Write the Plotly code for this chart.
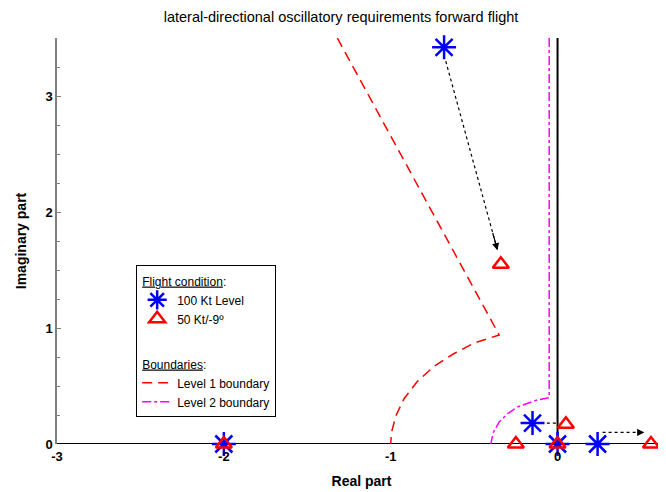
import plotly.graph_objects as go

# roots, 100 Kt level flight
level_re = [-0.68, -2.0, -0.15, 0.0, 0.24]
level_im = [3.42, 0.0, 0.18, 0.0, 0.0]
# roots, 50 Kt / -9 deg descent
desc_re = [-0.34, -2.0, -0.25, 0.0, 0.05, 0.56]
desc_im = [1.55, 0.0, 0.0, 0.0, 0.17, 0.0]

# boundaries
lvl1_re = [-1.32, -0.35, -0.50, -0.62, -0.74, -0.84, -0.92, -0.97, -0.995, -1.0]
lvl1_im = [3.5, 0.94, 0.87, 0.78, 0.67, 0.54, 0.39, 0.24, 0.10, 0.0]
lvl2_re = [-0.05, -0.05, -0.12, -0.24, -0.30, -0.35, -0.385, -0.40]
lvl2_im = [3.5, 0.40, 0.38, 0.32, 0.26, 0.19, 0.10, 0.0]

# arrows from level to descent roots
arr_x0 = [-0.67, -0.10, 0.27]
arr_y0 = [3.30, 0.18, 0.10]
arr_x1 = [-0.36, 0.01, 0.52]
arr_y1 = [1.67, 0.18, 0.10]

fnt = "Liberation Sans, Arial, sans-serif"

fig = go.Figure()

# arrows (dotted stems)
for x0, y0, x1, y1 in zip(arr_x0, arr_y0, arr_x1, arr_y1):
    fig.add_trace(go.Scatter(x=[x0, x1], y=[y0, y1], mode="lines",
                             line=dict(color="black", width=1.2, dash="dot"),
                             showlegend=False, hoverinfo="skip"))
    fig.add_annotation(x=x1, y=y1, ax=x1 - 0.1 * (x1 - x0), ay=y1 - 0.1 * (y1 - y0),
                       xref="x", yref="y", axref="x", ayref="y", text="",
                       showarrow=True, arrowhead=2, arrowsize=1.2, arrowwidth=1.2,
                       arrowcolor="black")

fig.add_trace(go.Scatter(x=level_re, y=level_im, mode="markers", name="100 Kt Level",
                         legendgroup="fc", legendgrouptitle=dict(text="<u>Flight condition</u>:"),
                         cliponaxis=False,
                         marker=dict(symbol="asterisk-open", size=20, color="blue",
                                     line=dict(color="blue", width=2.5))))
fig.add_trace(go.Scatter(x=desc_re, y=desc_im, mode="markers", name="50 Kt/-9º",
                         legendgroup="fc", cliponaxis=False,
                         marker=dict(symbol="triangle-up-open", size=14, color="red",
                                     line=dict(color="red", width=2.5))))
fig.add_trace(go.Scatter(x=lvl1_re, y=lvl1_im, mode="lines", name="Level 1 boundary",
                         legendgroup="b", legendgrouptitle=dict(text="<u>Boundaries</u>:"),
                         line=dict(color="red", width=1.5, dash="10px,6px")))
fig.add_trace(go.Scatter(x=lvl2_re, y=lvl2_im, mode="lines", name="Level 2 boundary",
                         legendgroup="b",
                         line=dict(color="magenta", width=1.5, dash="dashdot")))

# real and imaginary axes
fig.add_shape(type="line", x0=-3, x1=0.65, y0=0, y1=0, line=dict(color="black", width=2), layer="below")
fig.add_shape(type="line", x0=0, x1=0, y0=0, y1=3.5, line=dict(color="black", width=2), layer="below")

# the html page puts an 8px body margin around the figure, margins allow for it
fig.update_layout(
    width=666, height=492,
    margin=dict(l=49, r=8, t=30, b=56),
    plot_bgcolor="white", paper_bgcolor="white",
    font=dict(family=fnt, size=12, color="black"),
    title=dict(text="lateral-directional oscillatory requirements forward flight",
               x=0.5, xanchor="center", y=0.982, yanchor="middle",
               font=dict(family=fnt, size=14.5)),
    xaxis=dict(range=[-3, 0.65], tickvals=[-3, -2, -1, 0], ticktext=["-3", "-2", "-1", "0"],
               showgrid=False, zeroline=False, showline=False, ticks="", automargin=False,
               ticklabelstandoff=3,
               tickfont=dict(family=fnt, size=13, weight="bold"),
               title=dict(text="<b>Real part</b>", font=dict(family=fnt, size=14), standoff=13)),
    yaxis=dict(range=[0, 3.5], tickvals=[0, 1, 2, 3], showgrid=False, zeroline=False,
               showline=True, linecolor="gray", linewidth=1.5, ticks="inside", ticklen=4,
               tickcolor="gray", automargin=False,
               minor=dict(dtick=0.25, ticks="inside", ticklen=3, tickcolor="gray"),
               tickfont=dict(family=fnt, size=13, weight="bold"),
               title=dict(text="<b>Imaginary part</b>", font=dict(family=fnt, size=14), standoff=16)),
    legend=dict(x=0.13, y=0.44, xanchor="left", yanchor="top", bgcolor="white",
                bordercolor="black", borderwidth=1, tracegroupgap=26,
                font=dict(family=fnt, size=12), itemwidth=30,
                grouptitlefont=dict(family=fnt, size=12)),
    showlegend=True,
)

fig.write_html("out.html")
